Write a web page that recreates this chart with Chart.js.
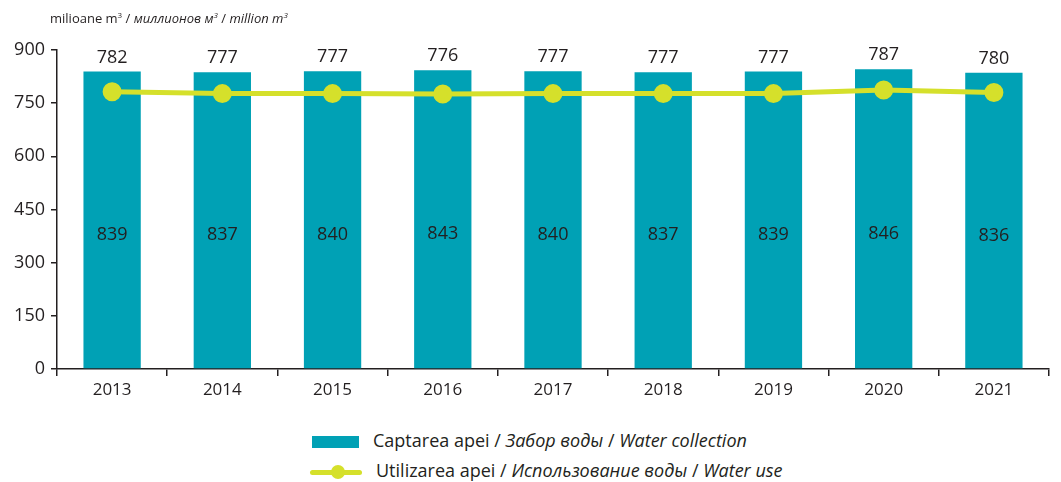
<!DOCTYPE html>
<html>
<head>
<meta charset="utf-8">
<script src="https://cdn.jsdelivr.net/npm/chart.js@4"></script>
<style>
  body { margin: 0; background: #fff; font-family: "Open Sans", sans-serif; color: #231f20; }
  #wrap { position: relative; width: 1061px; height: 482px; }
  #chartBox { position: absolute; left: 0; top: 0; width: 1061px; height: 406px; }
  #unit { position: absolute; left: 50px; top: 9px; font-size: 13px; }
  #unit sup { font-size: 8px; }
  .leg { position: absolute; left: 312px; font-size: 18px; white-space: nowrap; }
  .sw { display: inline-block; vertical-align: middle; margin-right: 14px; position: relative; }
</style>
</head>
<body>
<div id="wrap">
  <div id="chartBox"><canvas id="chart"></canvas></div>
  <div id="unit">milioane m<sup>3</sup> / <i>миллионов м<sup>3</sup></i> / <i>million m<sup>3</sup></i></div>
  <div class="leg" style="top:428px;">
    <span class="sw" style="width:47px;height:12px;background:#00a1b5;"></span>Captarea apei / <i>Забор воды</i> / <i>Water collection</i>
  </div>
  <div class="leg" style="top:458px;left:310px;">
    <span class="sw" style="width:52px;height:20px;">
      <span style="position:absolute;left:0;top:8px;width:52px;height:5px;background:#d5e02b;border-radius:3px;"></span>
      <span style="position:absolute;left:21px;top:3px;width:14px;height:14px;background:#d5e02b;border-radius:50%;"></span>
    </span>Utilizarea apei / <i>Использование воды</i> / <i>Water use</i>
  </div>
</div>
<script>
// data
const years = ['2013', '2014', '2015', '2016', '2017', '2018', '2019', '2020', '2021'];
const collection = [839, 837, 840, 843, 840, 837, 839, 846, 836];
const usage = [782, 777, 777, 776, 777, 777, 777, 787, 780];
const yTicks = [0, 150, 300, 450, 600, 750, 900];

const textColor = '#231f20';

// value labels: collection inside the bar, usage above the bar
const valueLabels = {
    id: 'valueLabels',
    afterDatasetsDraw(chart) {
        const ctx = chart.ctx;
        const bars = chart.getDatasetMeta(1).data;
        ctx.save();
        ctx.fillStyle = textColor;
        ctx.font = '18px "Open Sans", sans-serif';
        ctx.textAlign = 'center';
        ctx.textBaseline = 'middle';
        bars.forEach((bar, i) => {
            const mid = (bar.y + bar.base) / 2 + 15;
            ctx.fillText(collection[i], bar.x, mid);
            ctx.fillText(usage[i], bar.x, bar.y - 14);
        });
        ctx.restore();
    }
};

new Chart(document.getElementById('chart'), {
    data: {
        labels: years,
        datasets: [
            {
                type: 'line',
                label: 'Utilizarea apei',
                data: usage,
                borderColor: '#d5e02b',
                backgroundColor: '#d5e02b',
                borderWidth: 5,
                pointRadius: 7,
                pointHoverRadius: 7,
                tension: 0,
                order: 0
            },
            {
                type: 'bar',
                label: 'Captarea apei',
                data: collection,
                backgroundColor: '#00a1b5',
                barPercentage: 0.52,
                categoryPercentage: 1,
                order: 1
            }
        ]
    },
    options: {
        responsive: true,
        maintainAspectRatio: false,
        animation: false,
        layout: { padding: { top: 50, right: 0, left: 0, bottom: 0 } },
        plugins: {
            legend: { display: false },
            tooltip: { enabled: false }
        },
        scales: {
            x: {
                offset: true,
                grid: { offset: true, drawOnChartArea: false, drawTicks: true, tickLength: 7, color: textColor, lineWidth: 1.5 },
                border: { color: textColor, width: 1.5 },
                ticks: { color: textColor, font: { size: 17, family: '"Open Sans", sans-serif' }, padding: 4 },
                afterFit: (axis) => { axis.height = 37; }
            },
            y: {
                min: 0,
                max: 900,
                afterBuildTicks: (axis) => { axis.ticks = yTicks.map(v => ({ value: v })); },
                grid: { drawOnChartArea: false, drawTicks: true, tickLength: 6, color: textColor, lineWidth: 1.5 },
                border: { color: textColor, width: 1.5 },
                ticks: { color: textColor, font: { size: 18, family: '"Open Sans", sans-serif' }, padding: 6 },
                afterFit: (axis) => { axis.width = 57; }
            }
        }
    },
    plugins: [valueLabels]
});
</script>
</body>
</html>
